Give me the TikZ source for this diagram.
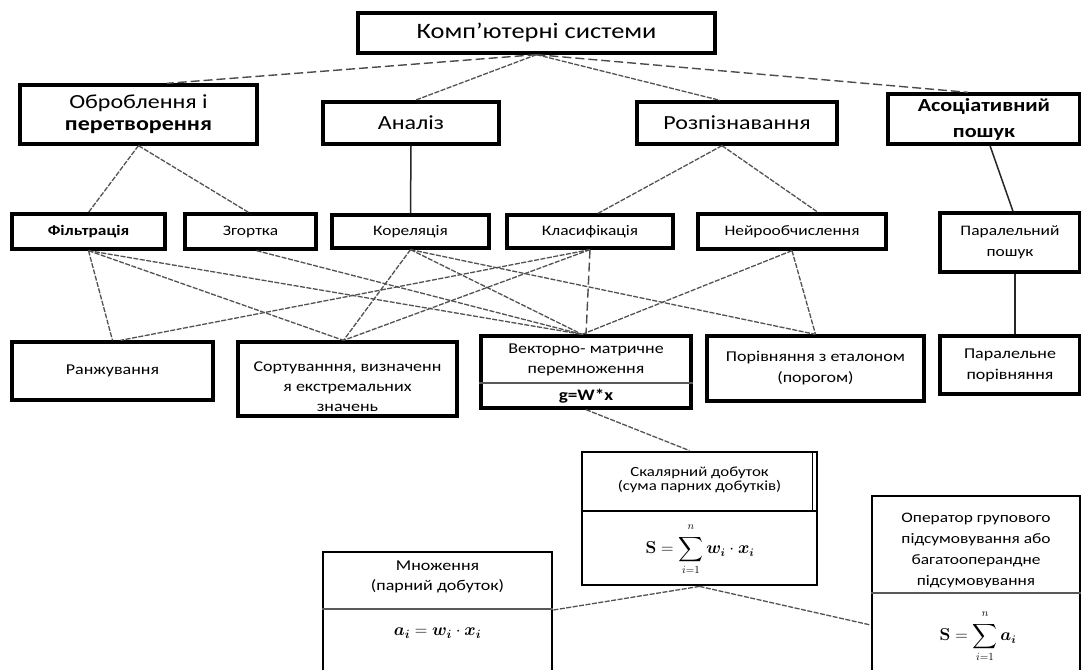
\documentclass[tikz,border=0pt]{standalone}
\usepackage{amsmath}
\usepackage{bm}
\usepackage[no-math]{fontspec}
\setmainfont{Carlito}[FakeStretch=1.2]
\usetikzlibrary{calc}

\newcommand\fszTop{\fontsize{22}{26}\selectfont}
\newcommand\fszOne{\fontsize{20}{22}\selectfont}
\newcommand\fszTwo{\fontsize{14.5}{18}\selectfont}
\newcommand\fszThree{\fontsize{15}{20.5}\selectfont}
\newcommand\upn{\raisebox{3pt}{$\scriptstyle n$}}

\tikzset{
 box/.style={draw=black, line width=3.3pt, fill=white, inner sep=0pt, align=center, rectangle},
 lbl/.style={inner sep=0pt, align=center},
 conn/.style={draw=black!68, line width=1.3pt, dash pattern=on 5pt off 1.5pt},
 dconn/.style={draw=black!70, line width=1.4pt, dash pattern=on 9pt off 4pt},
 sconn/.style={draw=black!85, line width=1.5pt},
 divline/.style={draw=black!65, line width=1.6pt},
}

\begin{document}
\begin{tikzpicture}[x=1pt,y=-1pt]
\clip (0,0) rectangle (1081,669);
\fill[white] (0,0) rectangle (1081,669);

% top
\node[box, minimum width=357pt, minimum height=40pt, font=\fszTop] (top) at (536.5,33) {Комп’ютерні системи};

% row 1
\node[box, minimum width=237pt, minimum height=59pt, font=\fszOne] (obr) at (138.5,114.5) {Оброблення і\\\textbf{перетворення}};
\node[box, minimum width=176pt, minimum height=42pt, font=\fszOne] (anal) at (411,123) {Аналіз};
\node[box, minimum width=200pt, minimum height=42pt, font=\fszOne] (rozp) at (737,123) {Розпізнавання};
\node[box, minimum width=192pt, minimum height=50pt, font={\fontsize{18.5}{26}\selectfont\bfseries}] (asoc) at (984,119) {Асоціативний\\пошук};

% row 2
\node[box, minimum width=153pt, minimum height=35pt, font={\fszTwo\bfseries}] (fil) at (88.5,231.5) {Фільтрація};
\node[box, minimum width=131pt, minimum height=35pt, font=\fszTwo] (zgor) at (250.5,231.5) {Згортка};
\node[box, minimum width=157pt, minimum height=33pt, font=\fszTwo] (kor) at (410.5,231.5) {Кореляція};
\node[box, minimum width=166pt, minimum height=33pt, font=\fszTwo] (klas) at (590,231.5) {Класифікація};
\node[box, minimum width=188pt, minimum height=35pt, font=\fszTwo] (neiro) at (792,231.5) {Нейрообчислення};
\node[box, minimum width=140pt, minimum height=59pt, font={\fontsize{14.5}{21}\selectfont}] (parp) at (1010,242.5) {Паралельний\\пошук};

% row 3
\node[box, minimum width=201pt, minimum height=58pt, font=\fszThree] (ranj) at (112.5,371) {Ранжування};
\node[box, minimum width=219pt, minimum height=74pt] (sort) at (347.5,379) {};
\node[lbl, font={\fontsize{15}{20}\selectfont}] (sortT) at (347.5,387) {Сортуванння, визначенн\\я екстремальних\\значень};

\node[box, minimum width=210pt, minimum height=72pt] (vek) at (586,372) {};
\draw[divline] ([yshift=-11pt]vek.west) -- ([yshift=-11pt]vek.east);
\node[lbl, font=\fszThree] (vekT) at (586,360) {Векторно- матричне\\перемноження};
\node[lbl, font={\fontsize{16}{18}\selectfont\bfseries}] (vekF) at (586,396) {g=W*x};

\node[box, minimum width=217pt, minimum height=65pt, font={\fontsize{15}{21}\selectfont}] (por) at (815.5,368.5) {Порівняння з еталоном\\(порогом)};
\node[box, minimum width=140pt, minimum height=58pt, font={\fontsize{15}{21}\selectfont}] (parpor) at (1010,365) {Паралельне\\порівняння};

% row 4
\node[box, line width=2.8pt, minimum width=235pt, minimum height=133pt] (skal) at (699.5,518.5) {};
\draw[line width=2.8pt] ([yshift=7.5pt]skal.west) -- ([yshift=7.5pt]skal.east);
\draw[line width=1pt] ([xshift=-6pt]skal.north east) -- ([xshift=-6pt,yshift=7.5pt]skal.east);
\node[lbl, font={\fontsize{14}{14}\selectfont}] (skalT) at (699.5,480) {Скалярний добуток\\(сума парних добутків)};
\node[lbl, font={\fontsize{16}{20}\selectfont}] (skalF) at (700,549) {$\displaystyle\mathbf{S}=\sum_{i=1}^{\upn}\bm{w}_{\bm{i}}\cdot\bm{x}_{\bm{i}}$};

\node[box, line width=2.8pt, minimum width=229pt, minimum height=120pt] (mnoz) at (437.5,612) {};
\draw[divline] ([yshift=3pt]mnoz.west) -- ([yshift=3pt]mnoz.east);
\node[lbl, font={\fontsize{15}{20}\selectfont}] (mnozT) at (437.5,577) {Множення\\(парний добуток)};
\node[lbl, font={\fontsize{18}{20}\selectfont}] (mnozF) at (437.5,633) {$\bm{a}_{\bm{i}}=\bm{w}_{\bm{i}}\cdot\bm{x}_{\bm{i}}$};

\node[box, line width=2.8pt, minimum width=208pt, minimum height=176pt] (oper) at (976,584) {};
\draw[divline] ([yshift=-9pt]oper.west) -- ([yshift=-9pt]oper.east);
\node[lbl, font={\fontsize{14.5}{21}\selectfont}] (operT) at (976,550) {Оператор групового\\підсумовування або\\багатооперандне\\підсумовування};
\node[lbl, font={\fontsize{16}{20}\selectfont}] (operF) at (978,636) {$\displaystyle\mathbf{S}=\sum_{i=1}^{\upn}\bm{a}_{\bm{i}}$};

% connectors: top level
\draw[dconn] (top.south) -- ([xshift=28.5pt]obr.north);
\draw[conn] (top.south) -- ([xshift=4pt]anal.north);
\draw[conn] (top.south) -- ([xshift=-17pt]rozp.north);
\draw[dconn] (top.south) -- ([xshift=-16pt]asoc.north);

% row 1 -> row 2
\draw[conn] (obr.south) -- (fil.north);
\draw[conn] (obr.south) -- ([xshift=-2pt]zgor.north);
\draw[sconn] (anal.south) -- (kor.north);
\draw[conn] ([xshift=-15pt]rozp.south) -- ([xshift=8pt]klas.north);
\draw[conn] ([xshift=-15pt]rozp.south) -- ([xshift=26pt]neiro.north);
\draw[sconn] ([xshift=6pt]asoc.south) -- ([xshift=3pt]parp.north);
\draw[sconn] ([xshift=5pt]parp.south) -- ([xshift=5pt]parpor.north);

% row 2 -> row 3
\draw[conn] (fil.south) -- (ranj.north);
\draw[conn] (fil.south) -- ([xshift=-4pt]sort.north);
\draw[conn] (fil.south) -- ([xshift=-4pt]vek.north);
\draw[conn] ([xshift=6pt]zgor.south) -- ([xshift=-4pt]vek.north);
\draw[conn] (kor.south) -- ([xshift=-4pt]sort.north);
\draw[conn] (kor.south) -- ([xshift=-4pt]vek.north);
\draw[conn] (kor.south) -- (por.north);
\draw[conn] (klas.south) -- ([xshift=8pt]ranj.north);
\draw[conn] (klas.south) -- ([xshift=-4pt]sort.north);
\draw[dconn] (klas.south) -- (vek.north);
\draw[conn] (neiro.south) -- ([xshift=-4pt]vek.north);
\draw[conn] (neiro.south) -- (por.north);

% row 3 -> row 4
\draw[conn] (vek.south) -- ([xshift=-10pt]skal.north);
\draw[conn] (skal.south) -- ([yshift=2pt]mnoz.east);
\draw[conn] (skal.south) -- ([yshift=-41pt]oper.west);
\end{tikzpicture}
\end{document}
